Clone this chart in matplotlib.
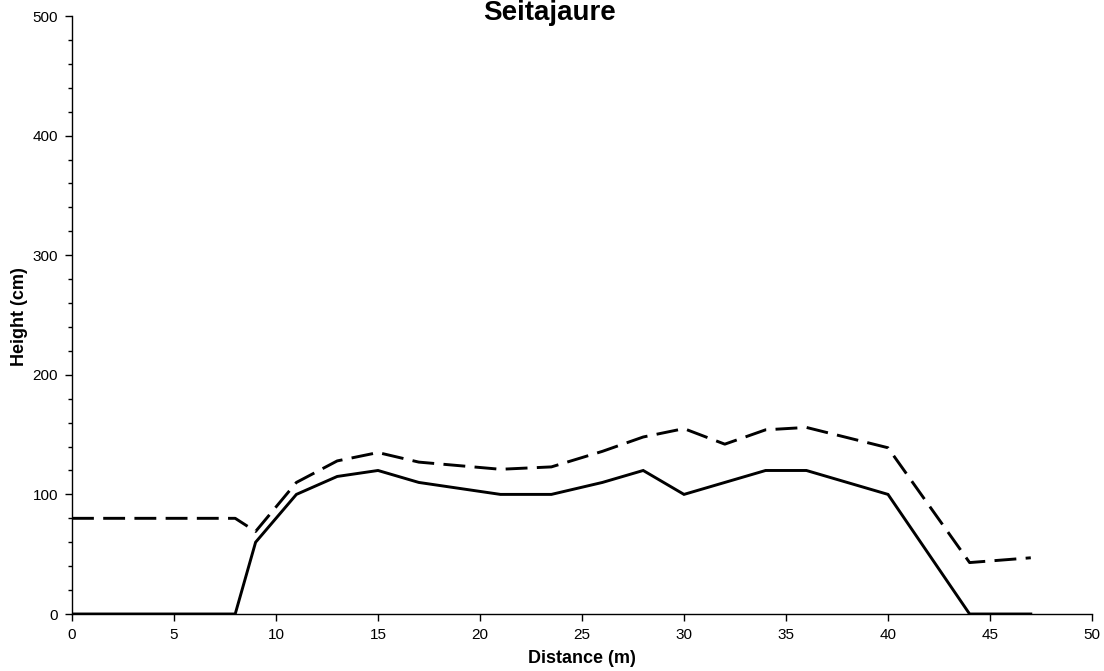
import matplotlib
matplotlib.use("Agg")
import matplotlib.pyplot as plt
from matplotlib.ticker import MultipleLocator

plt.rcParams["font.family"] = ["Liberation Sans", "DejaVu Sans"]

# profile distances (m) and heights (cm)
distance = [0, 8, 9, 11, 13, 15, 17, 21, 23.5, 26, 28, 30, 32, 34, 36, 40, 44, 47]
ground = [0, 0, 60, 100, 115, 120, 110, 100, 100, 110, 120, 100, 110, 120, 120, 100, 0, 0]
snow = [80, 80, 69, 110, 128, 135, 127, 121, 123, 136, 148, 155, 142, 154, 156, 139, 43, 47]

fig = plt.figure(figsize=(11.04, 6.71), dpi=100)
ax = fig.add_axes([72 / 1104, 1 - 614 / 671, 1020 / 1104, 598 / 671])

ax.plot(distance, ground, color="black", lw=2.1, solid_joinstyle="miter")
ax.plot(distance, snow, color="black", lw=2.1, dashes=[7.5, 3.2])

ax.set_xlim(0, 50)
ax.set_ylim(0, 500)
ax.xaxis.set_major_locator(MultipleLocator(5))
ax.yaxis.set_major_locator(MultipleLocator(100))
ax.yaxis.set_minor_locator(MultipleLocator(20))

for side in ("top", "right"):
    ax.spines[side].set_visible(False)
for side in ("left", "bottom"):
    ax.spines[side].set_linewidth(1.0)

ax.tick_params(axis="both", which="major", direction="out", length=5, width=1,
               labelsize=11, pad=5)
ax.tick_params(axis="y", which="minor", direction="out", length=3, width=1)

ax.set_xlabel("Distance (m)", fontsize=13, fontweight="bold", va="center")
ax.xaxis.set_label_coords(0.5, -0.0745)
ax.set_ylabel("Height (cm)", fontsize=13, fontweight="bold", va="center")
ax.yaxis.set_label_coords(-0.051, 0.498)
fig.text(550 / 1104, 1 - 20.5 / 671, "Seitajaure", fontsize=20, fontweight="bold",
         ha="center", va="baseline")

fig.savefig("out.png", dpi=100)
